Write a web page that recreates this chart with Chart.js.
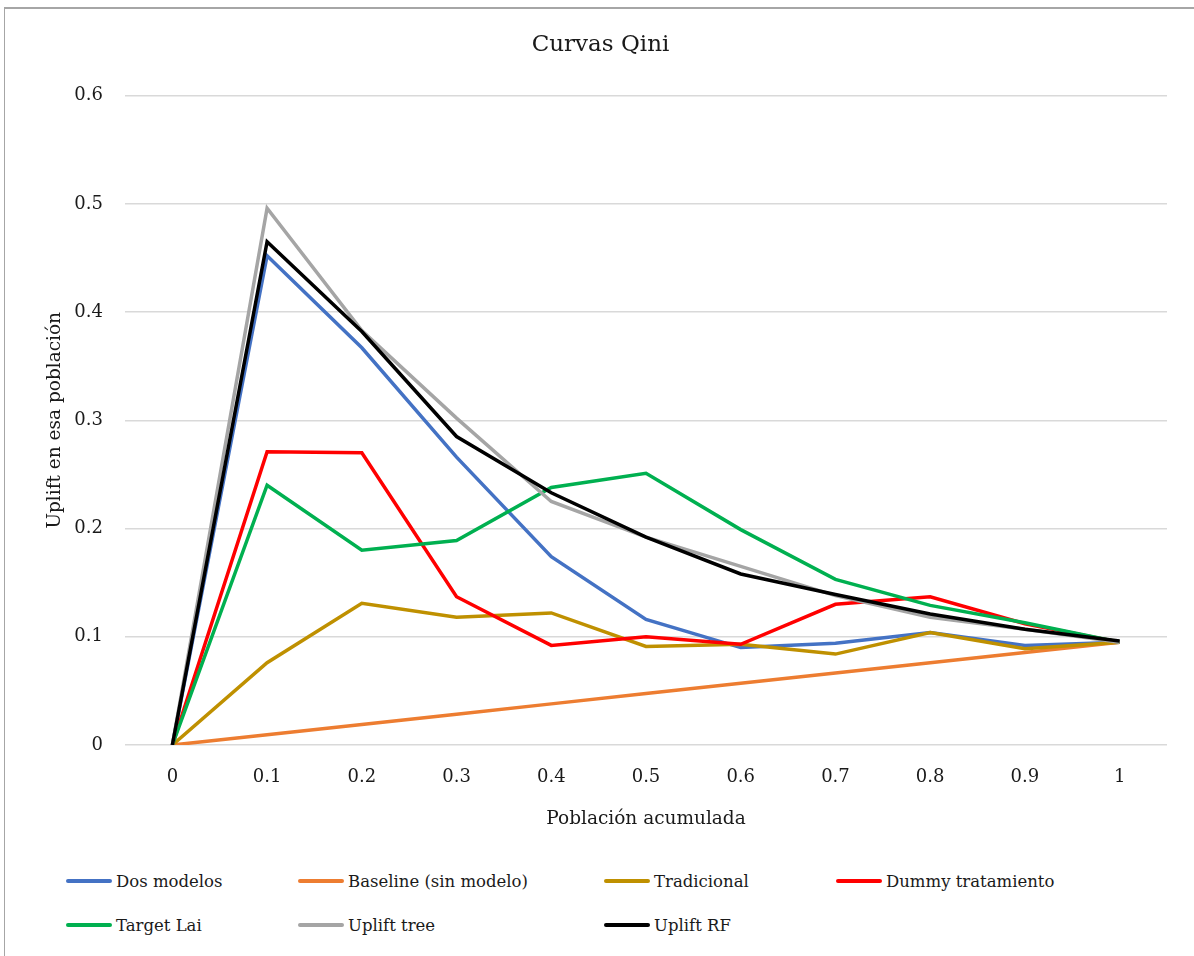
<!DOCTYPE html>
<html lang="es">
<head>
  <meta charset="UTF-8">
  <title>Curvas Qini</title>
  <script src="https://cdn.jsdelivr.net/npm/chart.js"></script>
  <style>
    body {
      margin: 0;
      background: #fff;
      font-family: "DejaVu Serif", serif;
    }
    #marco {
      position: absolute;
      left: 4px;
      top: 7px;
      width: 1200px;
      height: 960px;
      border-left: 1px solid #a6a6a6;
      border-top: 2px solid #a6a6a6;
    }
    #grafico {
      position: absolute;
      left: 0;
      top: 0;
    }
    .leyenda {
      position: absolute;
      display: flex;
      align-items: center;
      font-size: 16.5px;
      color: #1a1a1a;
      white-space: nowrap;
    }
    .leyenda span.linea {
      display: inline-block;
      width: 46px;
      height: 3.5px;
      border-radius: 2px;
      margin-right: 4px;
    }
  </style>
</head>
<body>

<div id="marco"></div>
<canvas id="grafico" width="1194" height="830"></canvas>
<div id="leyenda"></div>

<script>
  // datos
  const poblacion = ["0", "0.1", "0.2", "0.3", "0.4", "0.5", "0.6", "0.7", "0.8", "0.9", "1"];

  const dosModelos   = [0, 0.452, 0.367, 0.266, 0.174, 0.116, 0.090, 0.094, 0.104, 0.092, 0.095];
  const baseline     = [0, 0.0095, 0.019, 0.0285, 0.038, 0.0475, 0.057, 0.0665, 0.076, 0.0855, 0.095];
  const tradicional  = [0, 0.076, 0.131, 0.118, 0.122, 0.091, 0.093, 0.084, 0.104, 0.089, 0.095];
  const dummyTrat    = [0, 0.271, 0.270, 0.137, 0.092, 0.100, 0.093, 0.130, 0.137, 0.112, 0.095];
  const targetLai    = [0, 0.240, 0.180, 0.189, 0.238, 0.251, 0.199, 0.153, 0.129, 0.113, 0.095];
  const upliftTree   = [0, 0.496, 0.383, 0.302, 0.225, 0.192, 0.165, 0.138, 0.118, 0.107, 0.095];
  const upliftRF     = [0, 0.465, 0.382, 0.285, 0.233, 0.192, 0.158, 0.139, 0.121, 0.107, 0.096];

  const series = [
    { nombre: "Dos modelos",          datos: dosModelos,  color: "#4472C4" },
    { nombre: "Baseline (sin modelo)", datos: baseline,   color: "#ED7D31" },
    { nombre: "Tradicional",          datos: tradicional, color: "#BF9000" },
    { nombre: "Dummy tratamiento",    datos: dummyTrat,   color: "#FF0000" },
    { nombre: "Target Lai",           datos: targetLai,   color: "#00B050" },
    { nombre: "Uplift tree",          datos: upliftTree,  color: "#A5A5A5" },
    { nombre: "Uplift RF",            datos: upliftRF,    color: "#000000" }
  ];

  const fuente = "'DejaVu Serif', serif";
  const colorTexto = "#1a1a1a";

  new Chart(document.getElementById("grafico"), {
    type: "line",
    data: {
      labels: poblacion,
      datasets: series.map((s, i) => ({
        label: s.nombre,
        data: s.datos,
        borderColor: s.color,
        backgroundColor: s.color,
        borderWidth: 3.5,
        pointRadius: 0,
        tension: 0,
        fill: false,
        order: series.length - i
      }))
    },
    options: {
      responsive: false,
      animation: false,
      layout: { padding: { left: 34, right: 27, top: 0, bottom: 0 } },
      plugins: {
        legend: { display: false },
        tooltip: { enabled: false },
        title: {
          display: true,
          text: "Curvas Qini",
          color: colorTexto,
          font: { family: fuente, size: 23, weight: "normal" },
          padding: { top: 31, bottom: 37 }
        }
      },
      scales: {
        x: {
          type: "category",
          offset: true,
          grid: { display: false, drawTicks: false },
          border: { display: false },
          ticks: { color: colorTexto, font: { family: fuente, size: 18 }, padding: 22, maxRotation: 0 },
          title: {
            display: true,
            text: "Población acumulada",
            color: colorTexto,
            font: { family: fuente, size: 18.5 },
            padding: { top: 7, bottom: 0 }
          },
          afterFit: s => { s.height = 85; }
        },
        y: {
          min: 0,
          max: 0.6,
          grid: { color: "#d9d9d9", lineWidth: 1.5, drawTicks: false },
          border: { display: false },
          ticks: {
            stepSize: 0.1,
            color: colorTexto,
            font: { family: fuente, size: 18 },
            padding: 22,
            callback: v => String(+v.toFixed(1))
          },
          title: {
            display: true,
            text: "Uplift en esa población",
            color: colorTexto,
            font: { family: fuente, size: 18.5 },
            padding: { top: 10, bottom: 0 }
          },
          afterFit: s => { s.width = 91; }
        }
      }
    }
  });

  // leyenda en columnas como en el original
  const columnas = [66, 298, 604, 836];
  const filas = [881, 925];
  const leyenda = document.getElementById("leyenda");
  series.forEach((s, i) => {
    const item = document.createElement("div");
    item.className = "leyenda";
    item.style.left = columnas[i % 4] + "px";
    item.style.top = (filas[Math.floor(i / 4)] - 11) + "px";
    item.style.height = "22px";
    item.innerHTML = '<span class="linea" style="background:' + s.color + '"></span>' + s.nombre;
    leyenda.appendChild(item);
  });
</script>

</body>
</html>
